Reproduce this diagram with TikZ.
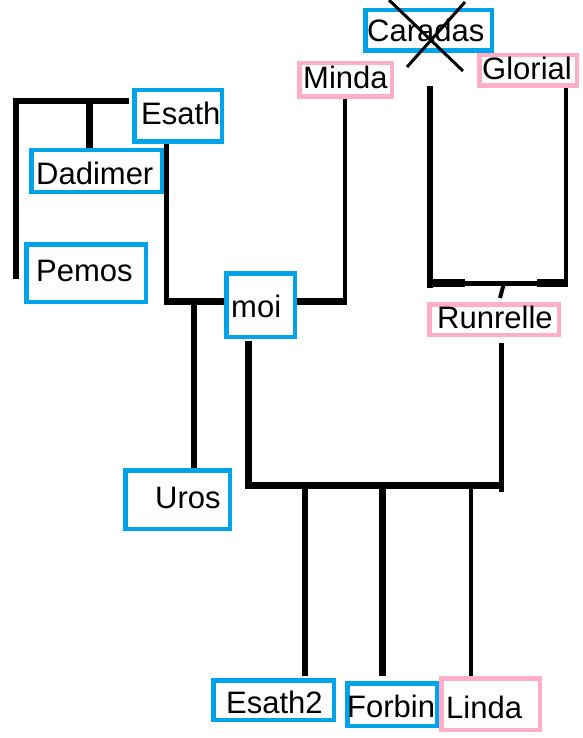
\documentclass[tikz,border=0pt]{standalone}
\usepackage{fontspec}
\setmainfont{Liberation Sans}
\definecolor{pblue}{HTML}{00A2E8}
\definecolor{ppink}{HTML}{FFAEC9}
\newcommand{\fbx}[5]{\draw[#1] (#2+2.25,#3+2.25) rectangle (#4-2.25,#5-2.25);}
\begin{document}
\begin{tikzpicture}[x=1pt,y=-1pt,
  txt/.style={anchor=base west, inner sep=0pt, font=\fontsize{31}{37}\selectfont},
  bl/.style={draw=pblue, line width=4.5pt, fill=white},
  pk/.style={draw=ppink, line width=4.5pt, fill=white},
  ln/.style={draw=black, line width=#1}]
\fill[white] (0,0) rectangle (582,738);
\useasboundingbox (0,0) rectangle (582,738);
% connectors (named coordinates)
\coordinate (tA) at (129,101);
\coordinate (tC) at (15.5,279);
\draw[ln=6pt] (tA) -| (tC);
\coordinate (dT) at (89.5,101);
\coordinate (dB) at (89.5,148);
\draw[ln=7pt] (dT) -- (dB);
\coordinate (eB) at (166.5,144);
\coordinate (eC) at (166.5,305);
\draw[ln=5.5pt] (eB) -- (eC);
\coordinate (hL) at (164,301.5);
\coordinate (hR) at (347,301.5);
\draw[ln=7pt] (hL) -- (hR);
\coordinate (mT) at (345,99);
\coordinate (mB) at (345,305);
\draw[ln=4.5pt] (mT) -- (mB);
\coordinate (uT) at (194,305);
\coordinate (uB) at (194,486);
\draw[ln=6pt] (uT) -- (uB);
\coordinate (cT) at (248.5,341);
\coordinate (cB) at (248.5,489);
\draw[ln=7pt] (cT) -- (cB);
\coordinate (cL) at (245,485.5);
\coordinate (cR) at (504,485.5);
\draw[ln=7pt] (cL) -- (cR);
\coordinate (rT) at (501.5,343);
\coordinate (rB) at (501.5,492);
\draw[ln=5pt] (rT) -- (rB);
\coordinate (k1T) at (305,489);
\coordinate (k1B) at (305,676);
\draw[ln=6pt] (k1T) -- (k1B);
\coordinate (k2T) at (382.5,489);
\coordinate (k2B) at (382.5,676);
\draw[ln=7pt] (k2T) -- (k2B);
\coordinate (k3T) at (471,489);
\coordinate (k3B) at (471,680);
\draw[ln=4.5pt] (k3T) -- (k3B);
\coordinate (gLT) at (430,86);
\coordinate (gLB) at (430,288);
\draw[ln=6pt] (gLT) -- (gLB);
\coordinate (gRT) at (566,88);
\coordinate (gRB) at (566,286);
\draw[ln=4.5pt] (gRT) -- (gRB);
\coordinate (gHL) at (427,283.5);
\coordinate (gHR) at (568,283.5);
\draw[ln=5pt] (gHL) -- (gHR);
\coordinate (gH1a) at (427,282.5);
\coordinate (gH1b) at (465,282.5);
\draw[ln=8pt] (gH1a) -- (gH1b);
\coordinate (gH2a) at (537,282.5);
\coordinate (gH2b) at (568,282.5);
\draw[ln=8pt] (gH2a) -- (gH2b);
\coordinate (tkT) at (504,283);
\coordinate (tkB) at (500,298);
\draw[ln=4pt] (tkT) -- (tkB);
% boxes
\fbx{bl}{132}{88}{224}{144}
\fbx{bl}{29}{148}{164}{194}
\fbx{bl}{24}{242}{148}{304}
\fbx{bl}{224}{271}{297}{339}
\fbx{bl}{123}{468}{232}{531}
\fbx{bl}{211}{678}{336}{722}
\fbx{bl}{345}{681}{439}{728}
\fbx{pk}{439}{676}{542}{732}
\fbx{pk}{427}{302}{561}{337}
\fbx{pk}{297}{61}{394}{99}
\fbx{bl}{363}{8}{494}{53}
\fbx{pk}{477}{53}{579}{88}
% texts
\node[txt] (esath) at (141,125) {Esath};
\node[txt] (dadimer) at (36,185) {Dadimer};
\node[txt] (pemos) at (36,281) {Pemos};
\node[txt] (moi) at (231,317) {moi};
\node[txt] (uros) at (155,508) {Uros};
\node[txt] (esath2) at (226,713) {Esath2};
\node[txt] (forbin) at (347,717) {Forbin};
\node[txt] (linda) at (446,718) {Linda};
\node[txt] (runrelle) at (437,328) {Runrelle};
\node[txt] (minda) at (303,89) {Minda};
\node[txt] (caradas) at (367,42) {Caradas};
\node[txt] (glorial) at (482,80) {Glorial};
% cross over Caradas
\coordinate (x1a) at (389,0);
\coordinate (x1b) at (463,71);
\coordinate (x2a) at (465,2);
\coordinate (x2b) at (407,67);
\draw[ln=3pt] (x1a) -- (x1b);
\draw[ln=3pt] (x2a) -- (x2b);
\end{tikzpicture}
\end{document}
